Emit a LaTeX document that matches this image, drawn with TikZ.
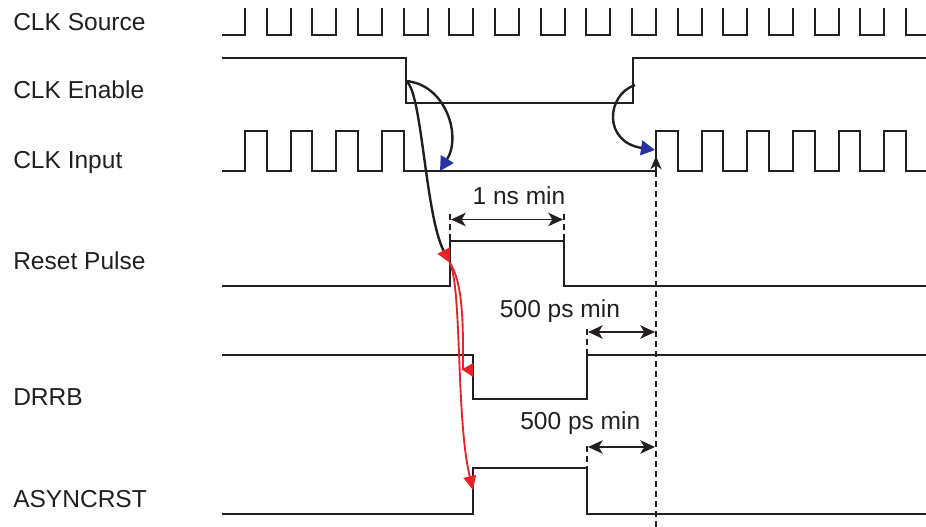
\documentclass[tikz,border=0pt]{standalone}
\usepackage{fontspec}
\setmainfont{Liberation Sans}
\usetikzlibrary{arrows.meta}
\definecolor{ink}{RGB}{35,31,32}
\definecolor{arrowblue}{RGB}{40,50,165}
\definecolor{arrowred}{RGB}{232,35,40}
\tikzset{
  sig/.style={draw=ink,line width=1.4pt,line join=miter},
  lbl/.style={anchor=base west,inner sep=0pt,text=ink,font=\fontsize{18.4}{22}\selectfont},
  dimtxt/.style={anchor=base,inner sep=0pt,text=ink,font=\fontsize{18.4}{22}\selectfont},
  guide/.style={draw=ink,line width=1.1pt,dash pattern=on 4.5pt off 3pt},
  dimarrow/.style={draw=ink,line width=1.4pt,{Stealth[length=11pt,width=10pt,inset=3pt]}-{Stealth[length=11pt,width=10pt,inset=3pt]}},
  cause/.style={draw=ink,line width=1.8pt},
  redcause/.style={draw=arrowred,line width=1.4pt},
}
\begin{document}
\begin{tikzpicture}[x=0.75pt,y=-0.75pt]
\useasboundingbox (0,0) rectangle (926,527);

% labels
\node[lbl] (lsrc) at (13,30.7) {CLK Source};
\node[lbl] (len)  at (13,98.3) {CLK Enable};
\node[lbl] (lin)  at (13,168.3) {CLK Input};
\node[lbl] (lrst) at (13,270) {Reset Pulse};
\node[lbl] (ldr)  at (13,406) {DRRB};
\node[lbl] (las)  at (13,507.3) {ASYNCRST};

% CLK Source
\draw[sig] (222,35) -- (245,35) -- (245,8);
\foreach \k in {0,...,13}{
  \draw[sig] ({266.7+45.67*\k},8) -- ({266.7+45.67*\k},35) -- ({245+45.67*(\k+1)},35) -- ({245+45.67*(\k+1)},8);
}
\draw[sig] (906.1,8) -- (906.1,35) -- (926,35);

% CLK Enable
\draw[sig] (222,58.3) -- (405.7,58.3) -- (405.7,103.3) -- (633.3,103.3) -- (633.3,58.3) -- (926,58.3);

% CLK Input
\draw[sig] (222,171)
  foreach \k in {0,...,3}{ -- ({245+45.67*\k},171) -- ({245+45.67*\k},131) -- ({266.7+45.67*\k},131) -- ({266.7+45.67*\k},171) }
  foreach \k in {9,...,14}{ -- ({245+45.67*\k},171) -- ({245+45.67*\k},131) -- ({266.7+45.67*\k},131) -- ({266.7+45.67*\k},171) }
  -- (926,171);

% Reset Pulse
\draw[sig] (222,286) -- (450,286) -- (450,241) -- (564,241) -- (564,286) -- (926,286);
% DRRB
\draw[sig] (222,355) -- (473,355) -- (473,399) -- (587,399) -- (587,355) -- (926,355);
% ASYNCRST
\draw[sig] (222,514) -- (473,514) -- (473,468) -- (587,468) -- (587,514) -- (926,514);

% coordinates for timing references
\coordinate (enfall) at (405.7,81);
\coordinate (enrise) at (635,85);
\coordinate (inlow)  at (440,171);
\coordinate (inrise) at (655,150);
\coordinate (rstrise) at (450,263);
\coordinate (drfall) at (463,370);
\coordinate (asrise) at (473,490);

% guides and dimensions
\coordinate (g1a) at (450,214); \coordinate (g1b) at (450,241);
\coordinate (g2a) at (564,214); \coordinate (g2b) at (564,241);
\draw[guide] (g1a) -- (g1b);
\draw[guide] (g2a) -- (g2b);
\coordinate (d1a) at (451,219.5); \coordinate (d1b) at (563,219.5);
\draw[dimarrow] (d1a) -- (d1b);
\node[dimtxt] (t1) at (519,205) {1 ns min};

\coordinate (g3a) at (587,329); \coordinate (g3b) at (587,355);
\draw[guide] (g3a) -- (g3b);
\coordinate (d2a) at (588,332); \coordinate (d2b) at (655,332);
\draw[dimarrow] (d2a) -- (d2b);
\node[dimtxt] (t2) at (560,317.3) {500 ps min};

\coordinate (g4a) at (587,446); \coordinate (g4b) at (587,468);
\draw[guide] (g4a) -- (g4b);
\coordinate (d3a) at (588,447); \coordinate (d3b) at (655,447);
\draw[dimarrow] (d3a) -- (d3b);
\node[dimtxt] (t3) at (580.3,430) {500 ps min};

% long dashed reference with arrow at CLK Input rise
\coordinate (lbot) at (656,527);
\coordinate (ltop) at (656,172);
\coordinate (ltip) at (656,156);
\draw[guide] (lbot) -- (ltop);
\draw[draw=ink,line width=1.1pt,-{Stealth[length=10pt,width=8.5pt,inset=3pt]}] (ltop) -- (ltip);

% causal arrows
\draw[cause,-{Triangle[length=10.5pt,width=11pt,color=arrowblue]}] (enfall) .. controls (445,84) and (462,135) .. (inlow);
\draw[cause,-{Triangle[length=10.5pt,width=10pt,color=arrowred]}] (enfall) .. controls (422,88) and (425,215) .. (rstrise);
\draw[cause,-{Triangle[length=10.5pt,width=11pt,color=arrowblue]}] (enrise) .. controls (606,95) and (603,142) .. (inrise);

\draw[redcause] (rstrise) .. controls (464,285) and (463,330) .. (drfall);
\fill[arrowred] (461.7,369.5) -- (473.3,363) -- (473.3,377) -- cycle;
\draw[redcause,-{Triangle[length=10.5pt,width=9.5pt,color=arrowred]}] (rstrise) .. controls (462,290) and (456,420) .. (asrise);
\end{tikzpicture}
\end{document}
